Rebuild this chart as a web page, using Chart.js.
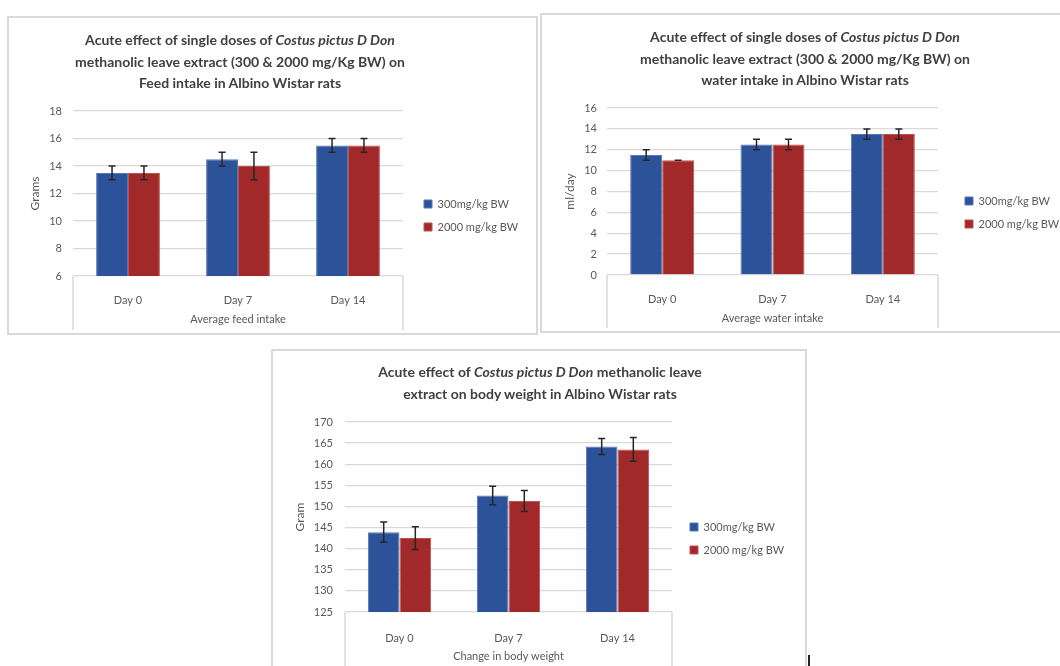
<!DOCTYPE html>
<html><head><meta charset="utf-8">
<script src="https://cdn.jsdelivr.net/npm/chart.js@4.4.1/dist/chart.umd.min.js"></script>
<style>
html,body{margin:0;padding:0;background:#fff;}
#page{position:relative;width:1060px;height:666px;overflow:hidden;background:#fff;font-family:Lato,sans-serif;}
.panel{position:absolute;border:2px solid #d9d9d9;box-sizing:border-box;background:#fff;}
.panel canvas{position:absolute;left:0;top:0;}
.ttl{position:absolute;width:520px;text-align:center;font-family:Lato,sans-serif;font-weight:bold;font-size:14px;line-height:21.5px;color:#404040;white-space:nowrap;}
</style></head><body>
<div id="page">
  <div class="panel" style="left:7px;top:16px;width:531px;height:319px"><canvas id="c1" width="527" height="315"></canvas></div>
  <div class="panel" style="left:540px;top:13px;width:530px;height:320px"><canvas id="c2" width="526" height="316"></canvas></div>
  <div class="panel" style="left:271px;top:349px;width:536px;height:333px"><canvas id="c3" width="532" height="329"></canvas></div>
  <div class="ttl" style="left:-20px;top:29px">Acute effect of single doses of <i>Costus pictus D Don</i><br>methanolic leave extract (300 &amp; 2000 mg/Kg BW) on<br>Feed intake in Albino Wistar rats</div>
  <div class="ttl" style="left:545px;top:26px">Acute effect of single doses of <i>Costus pictus D Don</i><br>methanolic leave extract (300 &amp; 2000 mg/Kg BW) on<br>water intake in Albino Wistar rats</div>
  <div class="ttl" style="left:280px;top:361px">Acute effect of <i>Costus pictus D Don</i> methanolic leave<br>extract on body weight in Albino Wistar rats</div>
  <div style="position:absolute;left:808px;top:655px;width:2px;height:11px;background:#222"></div>
</div>
<script>
// ---- data ----
const categories = ['Day 0', 'Day 7', 'Day 14'];
const seriesLabels = ['300mg/kg BW', '2000 mg/kg BW'];

const feed300 = [13.5, 14.5, 15.5];
const feed300Err = [0.5, 0.5, 0.5];
const feed2000 = [13.5, 14.0, 15.5];
const feed2000Err = [0.5, 1.0, 0.5];
const feedTicks = [6, 18, 2];

const water300 = [11.5, 12.5, 13.5];
const water300Err = [0.5, 0.5, 0.5];
const water2000 = [11.0, 12.5, 13.5];
const water2000Err = [0, 0.5, 0.5];
const waterTicks = [0, 16, 2];

const bw300 = [143.9, 152.6, 164.2];
const bw300Err = [2.4, 2.2, 1.9];
const bw2000 = [142.5, 151.3, 163.5];
const bw2000Err = [2.7, 2.5, 2.8];
const bwTicks = [125, 170, 5];

// ---- styling ----
const BLUE = '#2c529a', BLUE_EDGE = '#5577b8';
const RED = '#a2292a', RED_EDGE = '#c0504f';
const TXT = '#595959';
const FONT = 'Lato, sans-serif';

const errorBars = {
  id: 'errorBars',
  afterDatasetsDraw(chart) {
    const ctx = chart.ctx, y = chart.scales.y;
    ctx.save();
    ctx.strokeStyle = '#262626';
    ctx.lineWidth = 1.5;
    chart.data.datasets.forEach((ds, i) => {
      const meta = chart.getDatasetMeta(i);
      meta.data.forEach((bar, j) => {
        const e = ds.errors[j];
        if (e == null) return;
        const v = ds.data[j];
        const yt = y.getPixelForValue(v + e), yb = y.getPixelForValue(v - e);
        const x = bar.x, c = 3.5;
        ctx.beginPath();
        ctx.moveTo(x, yt); ctx.lineTo(x, yb);
        ctx.moveTo(x - c, yt); ctx.lineTo(x + c, yt);
        ctx.moveTo(x - c, yb); ctx.lineTo(x + c, yb);
        ctx.stroke();
      });
    });
    ctx.restore();
  }
};

const catBox = {
  id: 'catBox',
  afterDraw(chart) {
    const ctx = chart.ctx, a = chart.chartArea;
    ctx.save();
    ctx.strokeStyle = '#d9d9d9';
    ctx.lineWidth = 1.5;
    ctx.beginPath();
    ctx.moveTo(a.left, a.bottom); ctx.lineTo(a.left, chart.height - 3);
    ctx.moveTo(a.right, a.bottom); ctx.lineTo(a.right, chart.height - 3);
    ctx.stroke();
    ctx.restore();
  }
};

function legendWidth(w) {
  return {
    id: 'legendWidth',
    beforeInit(chart) {
      const orig = chart.legend.fit;
      chart.legend.fit = function () { orig.call(chart.legend); this.width = w; };
    }
  };
}

function makeChart(id, s1, e1, s2, e2, ticks, yTitle, xTitle, g) {
  return new Chart(document.getElementById(id), {
    type: 'bar',
    data: {
      labels: categories,
      datasets: [
        {label: seriesLabels[0], data: s1, errors: e1, backgroundColor: BLUE, borderColor: BLUE_EDGE, borderWidth: 1},
        {label: seriesLabels[1], data: s2, errors: e2, backgroundColor: RED, borderColor: RED_EDGE, borderWidth: 1}
      ]
    },
    options: {
      responsive: false,
      animation: false,
      layout: {padding: {top: g.padT, left: 0, right: 0, bottom: g.padB}},
      datasets: {bar: {categoryPercentage: 0.58, barPercentage: 1}},
      scales: {
        x: {
          grid: {display: false}, border: {display: false},
          ticks: {color: TXT, font: {family: FONT, size: 11}, padding: g.xTickPad},
          title: {display: true, text: xTitle, color: TXT, font: {family: FONT, size: 11}, padding: {top: 0, bottom: g.xTitlePad}},
          afterFit: s => { s.height = g.xH; }
        },
        y: {
          min: ticks[0], max: ticks[1],
          ticks: {stepSize: ticks[2], color: TXT, font: {family: FONT, size: 11}, padding: g.yTickPad},
          grid: {color: '#d9d9d9', lineWidth: 1.3, drawTicks: false},
          border: {display: false},
          title: {display: true, text: yTitle, color: TXT, font: {family: FONT, size: 12}, padding: {top: g.yTitlePad, bottom: 0}},
          afterFit: s => { s.width = g.L; }
        },
        gap: {
          type: 'linear', position: 'right', display: true,
          ticks: {display: false}, grid: {display: false}, border: {display: false},
          afterFit: s => { s.width = g.gap; }
        }
      },
      plugins: {
        legend: {position: 'right', labels: {boxWidth: 8, boxHeight: 8, padding: 12, color: TXT, font: {family: FONT, size: 11}}},
        tooltip: {enabled: false}
      }
    },
    plugins: [legendWidth(g.LW), errorBars, catBox]
  });
}

makeChart('c1', feed300, feed300Err, feed2000, feed2000Err, feedTicks, 'Grams', 'Average feed intake',
  {padT: 93, padB: 13, L: 64, gap: 9, LW: 124, xH: 44, xTickPad: 10, xTitlePad: -5.6, yTickPad: 11, yTitlePad: 19});
makeChart('c2', water300, water300Err, water2000, water2000Err, waterTicks, 'ml/day', 'Average water intake',
  {padT: 93, padB: 14, L: 65, gap: 15, LW: 115, xH: 42, xTickPad: 10, xTitlePad: -7.6, yTickPad: 10, yTitlePad: 21});
makeChart('c3', bw300, bw300Err, bw2000, bw2000Err, bwTicks, 'Gram', 'Change in body weight',
  {padT: 71, padB: 25, L: 72, gap: 6, LW: 127, xH: 43, xTickPad: 12, xTitlePad: -7.6, yTickPad: 12, yTitlePad: 20});
</script>
</body></html>
